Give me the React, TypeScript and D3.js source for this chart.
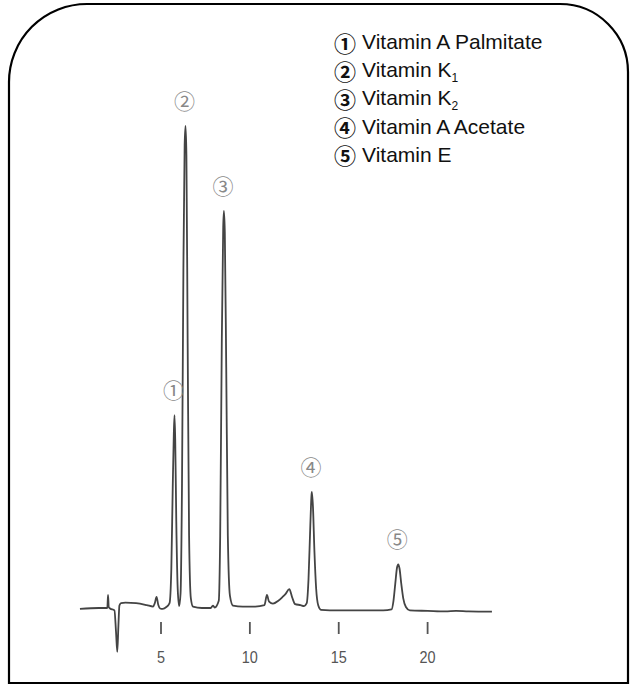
import * as d3 from "d3"

// retention time (min) vs detector response (% of the tallest peak)
const trace: [number, number][] = [
  [0.44, -0.2], [1.5, 0], [1.98, 0], [2.02, 2.7], [2.06, 0.2], [2.14, -0.1],
  [2.38, -0.5], [2.47, -5], [2.54, -9.1], [2.6, -4], [2.66, 0.5], [2.75, 1.0],
  [3.0, 1.1], [3.6, 1.0], [4.2, 0.6], [4.55, 0.3], [4.65, 1.0], [4.75, 2.3],
  [4.85, 0.6], [4.95, -0.1], [5.1, -0.2], [5.3, 0.2], [5.48, 1.0], [5.58, 8],
  [5.66, 25], [5.72, 36], [5.76, 40], [5.8, 35], [5.86, 18], [5.94, 4],
  [6.02, 0.4], [6.1, 3], [6.18, 25], [6.26, 70], [6.33, 96], [6.38, 100],
  [6.43, 94], [6.5, 55], [6.58, 15], [6.68, 2], [6.8, 0.3], [7.3, 0],
  [7.8, 0], [7.92, 0.5], [8.02, 0.1], [8.25, 1.5], [8.33, 15], [8.42, 55],
  [8.5, 79], [8.54, 82.4], [8.59, 78], [8.67, 50], [8.76, 15], [8.88, 2.5],
  [9.05, 0.5], [9.6, 0.3], [10.3, 0.3], [10.82, 0.6], [10.96, 2.7], [11.08, 1.3],
  [11.3, 0.9], [11.6, 1.5], [11.84, 2.3], [12.0, 2.9], [12.22, 3.9], [12.38, 2.2],
  [12.55, 0.8], [12.85, 0.6], [13.05, 0.4], [13.2, 1.0], [13.3, 6], [13.4, 17],
  [13.47, 23.5], [13.49, 24.1], [13.55, 21], [13.63, 12], [13.73, 4], [13.85, 0.5],
  [14.0, -0.4], [14.5, -0.5], [16.0, -0.5], [17.5, -0.5], [17.97, -0.3], [18.08, 1.5],
  [18.18, 5], [18.28, 8.4], [18.35, 9.07], [18.42, 8.2], [18.52, 5], [18.63, 2],
  [18.78, 0.2], [19.0, -0.5], [20.0, -0.6], [21.0, -0.7], [21.6, -0.6], [22.3, -0.7],
  [23.62, -0.75],
]

const peakMarks = ["①", "②", "③", "④", "⑤"]
const peakTimes = [5.76, 6.38, 8.54, 13.49, 18.35]
const peakHeights = [40, 100, 82.4, 24.1, 9.07]

const legendNames = ["Vitamin A Palmitate", "Vitamin K", "Vitamin K", "Vitamin A Acetate", "Vitamin E"]
const legendSubs = ["", "1", "2", "", ""]

const timeTicks = [5, 10, 15, 20]

const W = 631
const H = 686

export default function App() {
  const x = d3.scaleLinear().domain([5, 20]).range([161, 427.6])
  const y = d3.scaleLinear().domain([0, 100]).range([608, 126])

  const line = d3
    .line<[number, number]>()
    .x((d) => x(d[0]))
    .y((d) => y(d[1]))
    .curve(d3.curveMonotoneX)

  const rl = 78
  const rr = 68
  const frame = `M9,683 V${4 + rl} A${rl},${rl} 0 0 1 ${9 + rl},4 H${628 - rr} A${rr},${rr} 0 0 1 628,${4 + rr} V683 Z`

  return (
    <svg
      width={W}
      height={H}
      style={{ position: "absolute", left: 0, top: 0, display: "block", background: "#fff" }}
    >
      <path d={frame} fill="#fff" stroke="#000" strokeWidth={2.2} />

      {/* legend */}
      <g fontFamily="'Liberation Sans', Arial, sans-serif" fontSize={21} fill="#111">
        {legendNames.map((name, i) => {
          const cy = 41.7 + i * 28.1
          return (
            <g key={i}>
              <text
                x={345}
                y={cy}
                textAnchor="middle"
                dominantBaseline="central"
                fontFamily="'Noto Sans CJK JP', sans-serif"
                fontSize={22}
                fontWeight={700}
              >
                {peakMarks[i]}
              </text>
              <text x={362} y={cy + 7.5}>
                {name}
                {legendSubs[i] && (
                  <tspan fontSize={12} dy={5}>
                    {legendSubs[i]}
                  </tspan>
                )}
              </text>
            </g>
          )
        })}
      </g>

      {/* chromatogram */}
      <path d={line(trace) ?? ""} fill="none" stroke="#444" strokeWidth={1.8} strokeLinejoin="round" />

      {/* peak labels */}
      <g fontFamily="'Noto Sans CJK JP', sans-serif" fontSize={21} fill="#888" fontWeight={400}>
        {peakMarks.map((m, i) => (
          <text
            key={i}
            x={x(peakTimes[i]) - 1}
            y={y(peakHeights[i]) - 26}
            textAnchor="middle"
            dominantBaseline="central"
          >
            {m}
          </text>
        ))}
      </g>

      {/* time axis */}
      <g>
        {timeTicks.map((t) => (
          <g key={t} transform={`translate(${x(t)},0)`}>
            <line y1={622} y2={634} stroke="#555" strokeWidth={1.8} />
            <text
              transform="translate(0,663) scale(0.85,1)"
              textAnchor="middle"
              fontFamily="'Liberation Sans', Arial, sans-serif"
              fontSize={17}
              fill="#555"
            >
              {t}
            </text>
          </g>
        ))}
      </g>
    </svg>
  )
}
